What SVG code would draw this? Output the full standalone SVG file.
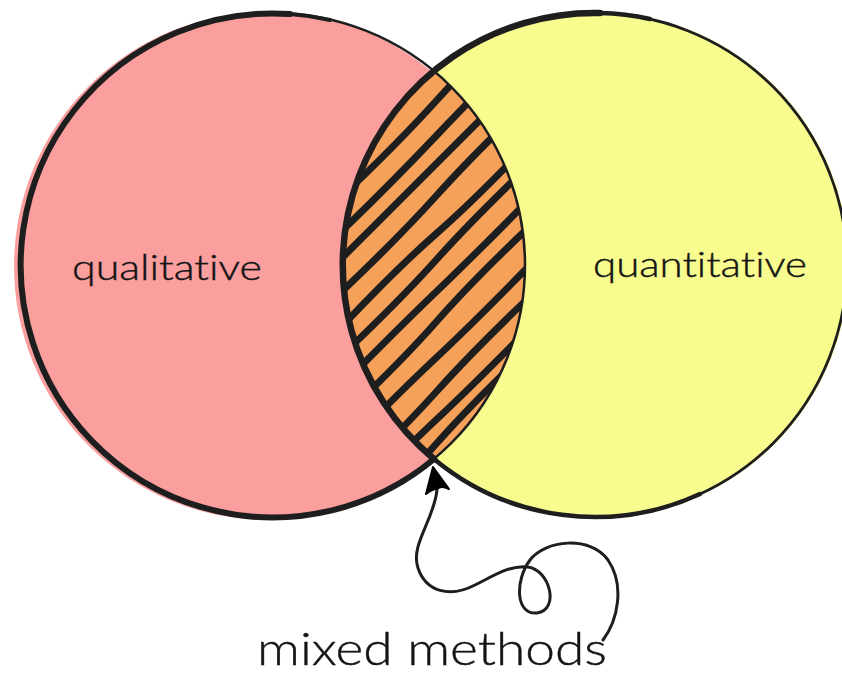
<svg xmlns="http://www.w3.org/2000/svg" width="842" height="674" viewBox="0 0 842 674">
  <style>
    .lbl { font-family: Lato, "Open Sans", "Liberation Sans", sans-serif; font-weight: 300; fill: #141414; stroke: #141414; stroke-width: 0.4; font-variant-ligatures: none; font-feature-settings: "liga" 0, "dlig" 0; }
    .ink { fill: none; stroke: #1e1e1e; stroke-linecap: round; stroke-linejoin: round; }
    .stripe { fill: none; stroke: #1e1e1e; stroke-width: 7; stroke-linecap: round; }
  </style>
  <defs>
    <clipPath id="lensClip">
      <path d="M 434 71 A 252 252 0 0 0 434 459 A 252 252 0 0 0 434 71 Z"/>
    </clipPath>
  </defs>
  <rect width="842" height="674" fill="#ffffff"/>

  <g id="qualitative">
    <circle cx="268" cy="266" r="254" fill="#fa9e9e"/>
  </g>
  <g id="quantitative">
    <circle cx="596" cy="265" r="253" fill="#f8fc8e"/>
  </g>

  <g id="mixed-overlap">
    <path d="M 434 71 A 252 252 0 0 0 434 459 A 252 252 0 0 0 434 71 Z" fill="#f6a15a"/>
    <g clip-path="url(#lensClip)">
      <path class="stripe" d="M 320 217 Q 390 152 437 100 T 560 -23"/>
      <path class="stripe" d="M 320 252 Q 385 190 437 135 T 560 12"/>
      <path class="stripe" d="M 320 280 Q 395 205 437 163 T 560 40"/>
      <path class="stripe" d="M 320 312 Q 392 245 437 195 T 560 72"/>
      <path class="stripe" d="M 320 350 Q 388 276 437 233 T 560 110"/>
      <path class="stripe" d="M 320 376 Q 393 308 437 259 T 560 136"/>
      <path class="stripe" d="M 320 408 Q 390 336 437 291 T 560 168"/>
      <path class="stripe" d="M 320 438 Q 394 370 437 321 T 560 198"/>
      <path class="stripe" d="M 320 474 Q 390 401 437 357 T 560 234"/>
      <path class="stripe" d="M 320 508 Q 393 440 437 391 T 560 268"/>
      <path class="stripe" d="M 320 536 Q 390 463 437 419 T 560 296"/>
      <path class="stripe" d="M 320 560 Q 392 494 437 443 T 560 320"/>
    </g>
  </g>

  <g id="outlines">
    <circle class="ink" cx="273" cy="265" r="252" stroke-width="2.5"/>
    <path class="ink" stroke-width="4" d="M 330 20 A 252 252 0 0 0 290 14"/>
    <path class="ink" stroke-width="6" d="M 290 14 A 252 252 0 1 0 434 459"/>
    <circle class="ink" cx="595" cy="265" r="252" stroke-width="2.8"/>
    <path class="ink" stroke-width="6.5" d="M 434 459 A 252 252 0 0 1 600 13"/>
    <path class="ink" stroke-width="4.5" d="M 600 13 A 252 252 0 0 1 650 19"/>
    <path class="ink" stroke-width="4.5" d="M 434 459 A 252 252 0 0 0 700 494"/>
  </g>

  <g id="labels">
    <text class="lbl" x="72" y="280" font-size="35" textLength="190" lengthAdjust="spacingAndGlyphs">qualitative</text>
    <text class="lbl" x="593" y="277" font-size="35" textLength="214" lengthAdjust="spacingAndGlyphs">quantitative</text>
    <text class="lbl" x="257" y="665" font-size="46" textLength="350" lengthAdjust="spacingAndGlyphs">mixed methods</text>
  </g>

  <g id="connectors">
    <path class="ink" stroke-width="3" d="M 437 490 C 434 520, 410 545, 418 568 C 426 592, 450 598, 475 585 C 495 575, 510 565, 528 567 C 550 570, 560 610, 537 613 C 515 615, 515 580, 530 560 C 545 540, 590 535, 608 560 C 625 585, 618 620, 603 640"/>
    <path d="M 433 467 L 449 489 Q 441 485 437 489 Q 432 489 426 494 Z" fill="#000000" stroke="#000000" stroke-width="2" stroke-linejoin="round"/>
  </g>
</svg>
